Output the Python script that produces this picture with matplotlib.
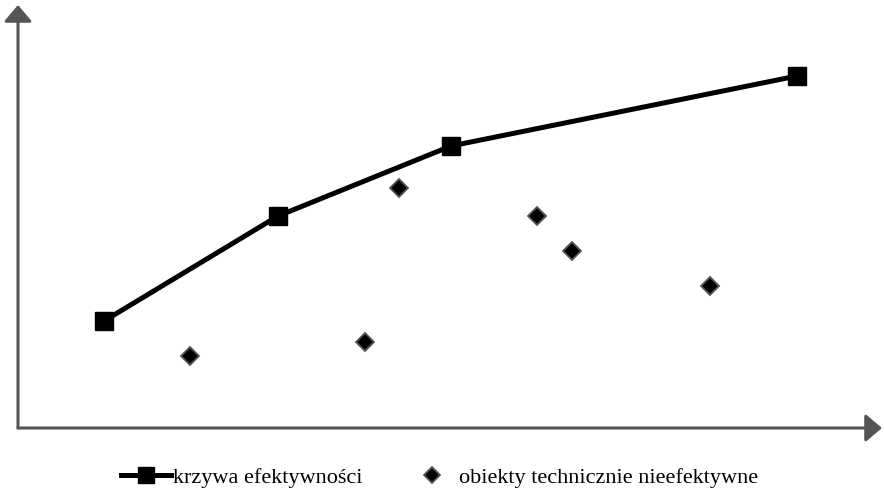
import matplotlib.pyplot as plt

# efficiency curve (frontier) points
curve_x = [8.6, 26.0, 43.3, 77.9]
curve_y = [10.7, 21.2, 28.2, 35.2]

# technically inefficient objects
obj_x = [17.2, 34.7, 38.1, 51.9, 55.4, 69.2]
obj_y = [7.2, 8.6, 24.0, 21.2, 17.7, 14.2]

label_curve = "krzywa efektywności"
label_obj = "obiekty technicznie nieefektywne"

plt.rcParams["font.family"] = ["Liberation Serif", "DejaVu Serif"]

fig = plt.figure(figsize=(8.85, 4.94), dpi=100, facecolor="w")
ax = fig.add_axes([0, 0, 1, 1])
ax.set_xlim(-1.8, 86.7)
ax.set_ylim(-6.6, 42.8)
ax.axis("off")

# axes with arrows
arrow_style = dict(arrowstyle="-|>,head_width=0.85,head_length=1.0",
                   color="#555555", lw=2.2, shrinkA=0, shrinkB=0)
ax.annotate("", xy=(86.4, 0), xytext=(0, 0), arrowprops=arrow_style)
ax.annotate("", xy=(0, 42.3), xytext=(0, 0), arrowprops=arrow_style)

ax.plot(curve_x, curve_y, color="black", lw=3.6, marker="s", markersize=13.5,
        label=label_curve, zorder=3)
ax.plot(obj_x, obj_y, linestyle="none", marker="D", markersize=9,
        markerfacecolor="black", markeredgecolor="#555555", markeredgewidth=1.3,
        label=label_obj, zorder=3)

fig.legend(loc="center", bbox_to_anchor=(0.497, 0.033), ncol=2, frameon=False,
           fontsize=16, handlelength=2.25, handletextpad=0.1, columnspacing=2.0,
           markerscale=0.9)

plt.savefig("out.png", dpi=100)
